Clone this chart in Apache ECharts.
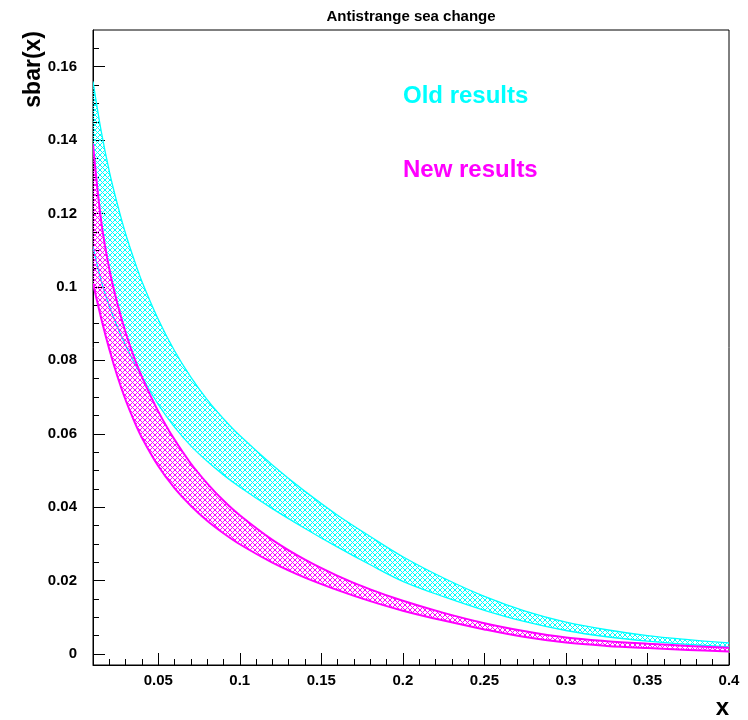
<!DOCTYPE html>
<html>
<head>
<meta charset="utf-8">
<title>Antistrange sea change</title>
<script src="https://cdn.jsdelivr.net/npm/echarts@6/dist/echarts.min.js"></script>
<style>
  html, body { margin: 0; padding: 0; background: #ffffff; }
  #chart { width: 748px; height: 720px; }
</style>
</head>
<body>
<div id="chart"></div>
<script>
// Sampling points in x
const xValues = [0.01, 0.015, 0.02, 0.025, 0.03, 0.035, 0.04, 0.05, 0.06, 0.07,
  0.08, 0.09, 0.1, 0.12, 0.14, 0.16, 0.18, 0.2, 0.225, 0.25,
  0.275, 0.3, 0.325, 0.35, 0.375, 0.4];

// Old results: upper and lower edge of the uncertainty band
const oldUpper = [0.156, 0.1425, 0.1315, 0.1225, 0.1145, 0.1077, 0.1015, 0.0912, 0.0826, 0.0754,
  0.0693, 0.0641, 0.0595, 0.0515, 0.0443, 0.0378, 0.0320, 0.0265, 0.0207, 0.0157,
  0.0117, 0.0087, 0.0066, 0.0050, 0.0039, 0.0030];
const oldLower = [0.111, 0.1017, 0.0948, 0.0891, 0.0841, 0.0796, 0.0755, 0.0680, 0.0618, 0.0567,
  0.0525, 0.0488, 0.0455, 0.0396, 0.0342, 0.0291, 0.0243, 0.0198, 0.0156, 0.0119,
  0.0088, 0.0064, 0.0047, 0.0035, 0.0026, 0.0019];

// New results: upper and lower edge of the uncertainty band
const newUpper = [0.139, 0.1180, 0.1049, 0.0954, 0.0876, 0.0811, 0.0755, 0.0661, 0.0584, 0.0519,
  0.0465, 0.0418, 0.0378, 0.0311, 0.0257, 0.0213, 0.0176, 0.0145, 0.0112, 0.0084,
  0.0062, 0.0045, 0.0035, 0.0028, 0.0022, 0.0017];
const newLower = [0.101, 0.0915, 0.0830, 0.0756, 0.0692, 0.0637, 0.0589, 0.0512, 0.0452, 0.0404,
  0.0363, 0.0329, 0.0299, 0.0249, 0.0208, 0.0174, 0.0144, 0.0118, 0.0091, 0.0067,
  0.0046, 0.0031, 0.0022, 0.0016, 0.0011, 0.0007];

// Axis ticks and labels
const xMajorTicks = [0.05, 0.1, 0.15, 0.2, 0.25, 0.3, 0.35, 0.4];
const xMinorTicks = [0.02, 0.03, 0.04, 0.06, 0.07, 0.08, 0.09, 0.11, 0.12, 0.13, 0.14,
  0.16, 0.17, 0.18, 0.19, 0.21, 0.22, 0.23, 0.24, 0.26, 0.27, 0.28, 0.29,
  0.31, 0.32, 0.33, 0.34, 0.36, 0.37, 0.38, 0.39];
const yMajorTicks = [0, 0.02, 0.04, 0.06, 0.08, 0.1, 0.12, 0.14, 0.16];
const yMinorTicks = [0.005, 0.01, 0.015, 0.025, 0.03, 0.035, 0.045, 0.05, 0.055,
  0.065, 0.07, 0.075, 0.085, 0.09, 0.095, 0.105, 0.11, 0.115, 0.125, 0.13, 0.135,
  0.145, 0.15, 0.155, 0.165];

const X_MIN = 0.01, X_MAX = 0.4;
const Y_MIN = -0.003, Y_MAX = 0.17;

const OLD_COLOR = '#00ffff';
const NEW_COLOR = '#ff00ff';
const FONT = "'Liberation Sans', Arial, Helvetica, sans-serif";
const SMOOTH = 0.35;

// Cross-hatch tile: two 1px diagonals on a transparent background
function hatchPattern(color, size) {
  const c = document.createElement('canvas');
  c.width = size; c.height = size;
  const ctx = c.getContext('2d');
  ctx.fillStyle = color;
  for (let i = 0; i < size; i++) {
    ctx.fillRect(i, i, 1, 1);
    ctx.fillRect(size - 1 - i, i, 1, 1);
  }
  return { image: c, repeat: 'repeat' };
}

// Hatched band with its two edge curves, projected through the grid's axes
function bandSeries(name, upper, lower, color, edgeWidth) {
  const fill = hatchPattern(color, 5);
  return {
    type: 'custom',
    name: name,
    coordinateSystem: 'cartesian2d',
    silent: true,
    clip: true,
    data: [[xValues[0], upper[0]]],
    renderItem: function (params, api) {
      const top = xValues.map((x, i) => api.coord([x, upper[i]]));
      const bottom = xValues.map((x, i) => api.coord([x, lower[i]]));
      const n = top.length;
      // corners are doubled so the closed outline keeps the edge tangents
      const outline = [top[0]].concat(top, [top[n - 1]], [bottom[n - 1]],
        bottom.slice().reverse(), [bottom[0]]);
      return {
        type: 'group',
        children: [{
          type: 'polygon',
          shape: { points: outline, smooth: SMOOTH },
          style: { fill: fill, stroke: null }
        }, {
          type: 'polyline',
          shape: { points: top, smooth: SMOOTH },
          style: { fill: null, stroke: color, lineWidth: edgeWidth }
        }, {
          type: 'polyline',
          shape: { points: bottom, smooth: SMOOTH },
          style: { fill: null, stroke: color, lineWidth: edgeWidth }
        }]
      };
    }
  };
}

const axisLabelFmt = v => String(+(+v).toFixed(3));

const chart = echarts.init(document.getElementById('chart'), null, { renderer: 'canvas' });
chart.setOption({
  animation: false,
  backgroundColor: '#ffffff',
  grid: {
    left: 93, right: 19, top: 30, bottom: 55,
    show: true, borderColor: '#000000', borderWidth: 1,
    containLabel: false, outerBoundsMode: 'none'
  },
  xAxis: [{
    type: 'value', min: X_MIN, max: X_MAX, position: 'bottom',
    axisLine: { show: true, onZero: false, lineStyle: { color: '#000000', width: 1 } },
    axisTick: { show: true, inside: true, length: 12, customValues: xMajorTicks,
      lineStyle: { color: '#000000', width: 1 } },
    axisLabel: { show: true, customValues: xMajorTicks, formatter: axisLabelFmt,
      margin: 8, color: '#000000', fontFamily: FONT, fontWeight: 'bold', fontSize: 15 },
    splitLine: { show: false }
  }, {
    type: 'value', min: X_MIN, max: X_MAX, position: 'bottom', offset: 0,
    axisLine: { show: false, onZero: false },
    axisTick: { show: true, inside: true, length: 6, customValues: xMinorTicks,
      lineStyle: { color: '#000000', width: 1 } },
    axisLabel: { show: false },
    splitLine: { show: false }
  }],
  yAxis: [{
    type: 'value', min: Y_MIN, max: Y_MAX, position: 'left',
    axisLine: { show: true, onZero: false, lineStyle: { color: '#000000', width: 1 } },
    axisTick: { show: true, inside: true, length: 12, customValues: yMajorTicks,
      lineStyle: { color: '#000000', width: 1 } },
    axisLabel: { show: true, customValues: yMajorTicks, formatter: axisLabelFmt,
      margin: 16, color: '#000000', fontFamily: FONT, fontWeight: 'bold', fontSize: 15 },
    splitLine: { show: false }
  }, {
    type: 'value', min: Y_MIN, max: Y_MAX, position: 'left', offset: 0,
    axisLine: { show: false, onZero: false },
    axisTick: { show: true, inside: true, length: 6, customValues: yMinorTicks,
      lineStyle: { color: '#000000', width: 1 } },
    axisLabel: { show: false },
    splitLine: { show: false }
  }],
  series: [
    bandSeries('Old results', oldUpper, oldLower, OLD_COLOR, 1.3),
    bandSeries('New results', newUpper, newLower, NEW_COLOR, 2)
  ],
  graphic: [
    { type: 'text', x: 411, y: 17, silent: true,
      style: { text: 'Antistrange sea change', fill: '#000', align: 'center', verticalAlign: 'middle',
        font: 'bold 15px ' + FONT } },
    { type: 'text', x: 34, y: 31, rotation: Math.PI / 2, silent: true,
      style: { text: 'sbar(x)', fill: '#000', align: 'right', verticalAlign: 'middle',
        font: 'bold 23px ' + FONT } },
    { type: 'text', x: 729, y: 708, silent: true,
      style: { text: 'x', fill: '#000', align: 'right', verticalAlign: 'middle',
        font: 'bold 24px ' + FONT } },
    { type: 'text', x: 403, y: 96, silent: true,
      style: { text: 'Old results', fill: OLD_COLOR, align: 'left', verticalAlign: 'middle',
        font: 'bold 24px ' + FONT } },
    { type: 'text', x: 403, y: 170, silent: true,
      style: { text: 'New results', fill: NEW_COLOR, align: 'left', verticalAlign: 'middle',
        font: 'bold 24px ' + FONT } }
  ]
});
</script>
</body>
</html>
